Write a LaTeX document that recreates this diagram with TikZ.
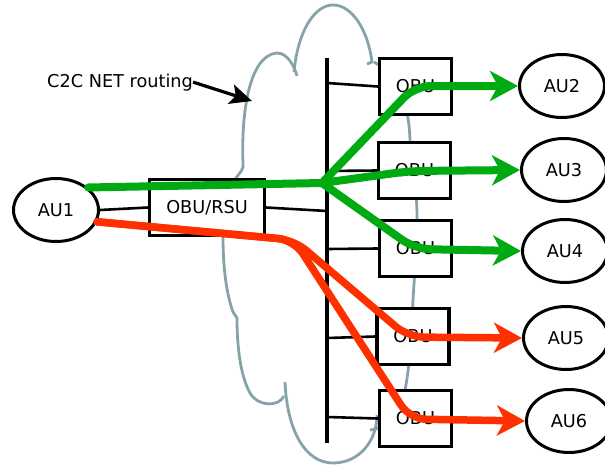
\documentclass[tikz,border=0pt]{standalone}
\usepackage{fontspec}
\setmainfont{DejaVu Sans}
\usetikzlibrary{shapes.geometric,arrows.meta}
\definecolor{cloudc}{RGB}{135,163,170}
\definecolor{grn}{RGB}{0,170,17}
\definecolor{rd}{RGB}{255,48,0}
\begin{document}
\begin{tikzpicture}[x=1pt,y=-1pt,font=\fontsize{17.7}{20}\selectfont,
  au/.style={ellipse,draw,line width=3pt,minimum width=85pt,minimum height=63pt,inner sep=0pt,fill=white},
  obu/.style={rectangle,draw,line width=3.2pt,minimum width=72pt,minimum height=56pt,inner sep=0pt,fill=white},
  link/.style={line width=2.6pt},
  bus/.style={line width=3.1pt},
  cloud/.style={draw=cloudc,line width=2.8pt},
  gpath/.style={draw=grn,line width=8pt,line cap=round,line join=round},
  rpath/.style={draw=rd,line width=7.5pt,line cap=round,line join=round},
  bigtip/.style={-{Stealth[length=28pt,width=30pt,inset=8pt]}}
]
\useasboundingbox (0,0) rectangle (605,466);
% cloud outline
\draw[cloud] (236,178) .. controls (240,172) and (244,170) .. (243,163)
  .. controls (241,110) and (250,55) .. (277,53)
  .. controls (287,53) and (294,65) .. (297,76);
\draw[cloud] (294,72) .. controls (298,30) and (315,5) .. (333,5)
  .. controls (352,5) and (368,30) .. (372,62) -- (367,64);
\draw[cloud] (374,62) .. controls (402,78) and (409,110) .. (410,140)
  .. controls (412,170) and (417,190) .. (417,215)
  .. controls (417,250) and (414,280) .. (413,300)
  .. controls (411,340) and (410,360) .. (406,385)
  .. controls (402,410) and (390,428) .. (370,430);
\draw[cloud] (285,382) .. controls (287,430) and (305,463) .. (333,463)
  .. controls (360,463) and (377,440) .. (377,415);
\draw[cloud] (284,396) .. controls (279,407) and (258,407) .. (250,393)
  .. controls (240,375) and (237,345) .. (237,318) -- (233,312)
  .. controls (225,290) and (223,260) .. (223,237)
  .. controls (223,200) and (228,185) .. (236,178);

% nodes
\node[au] (AU1) at (56,210) {AU1};
\node[au] (AU2) at (562,86) {AU2};
\node[au] (AU3) at (564,170) {AU3};
\node[au] (AU4) at (565,251) {AU4};
\node[au] (AU5) at (566,338) {AU5};
\node[au] (AU6) at (569,421) {AU6};
\node[obu,minimum width=115pt] (rsu) at (207,207.5) {OBU/RSU};
\node[obu] (obu1) at (415.5,86.5) {OBU};
\node[obu] (obu2) at (414.5,170.5) {OBU};
\node[obu] (obu3) at (415.5,248.5) {OBU};
\node[obu] (obu4) at (413,336.5) {OBU};
\node[obu] (obu5) at (415.5,418.5) {OBU};
\node[anchor=base west,inner sep=0pt] (c2c) at (47,87) {C2C NET routing};

% bus and links
\coordinate (busT) at (327,58);
\coordinate (busB) at (327,443);
\coordinate (b1) at (327,83);
\coordinate (b2) at (327,171);
\coordinate (b3) at (327,249);
\coordinate (b4) at (327,338);
\coordinate (b5) at (327,417);
\coordinate (br) at (327,211);
\draw[bus] (busT) -- (busB);
\draw[link] (b1) -- (obu1.west);
\draw[link] (b2) -- (obu2.west);
\draw[link] (b3) -- (obu3.west);
\draw[link] (b4) -- (obu4.west);
\draw[link] (b5) -- (obu5.west);
\draw[link] (rsu.east) -- (br);
\draw[link] (AU1.east) -- (rsu.west);

% C2C arrow
\coordinate (ctip) at (252,101);
\draw[line width=3.2pt,-{Stealth[length=22pt,width=20pt,inset=5pt]}] (c2c.east) -- (ctip);

% green routes
\coordinate (jn) at (322,183);
\coordinate (g1) at (415,86);
\coordinate (g2) at (410,171);
\coordinate (g3) at (415,249);
\draw[gpath] (AU1.35) -- (jn);
\draw[gpath,bigtip,rounded corners=16pt] (jn) -- (g1) -- (AU2.west);
\draw[gpath,bigtip,rounded corners=16pt] (jn) -- (g2) -- (AU3.west);
\draw[gpath,bigtip,rounded corners=16pt] (jn) -- (g3) -- (AU4.west);

% red routes
\coordinate (rc) at (294,240);
\coordinate (r1) at (408,337);
\coordinate (r2) at (410,419);
\draw[rpath,bigtip,rounded corners=16pt] (AU1.-16) -- (rc) -- (r1) -- (AU5.west);
\draw[rpath,bigtip,rounded corners=16pt] (AU1.-16) -- (rc) -- (r2) -- (AU6.west);
\end{tikzpicture}
\end{document}
